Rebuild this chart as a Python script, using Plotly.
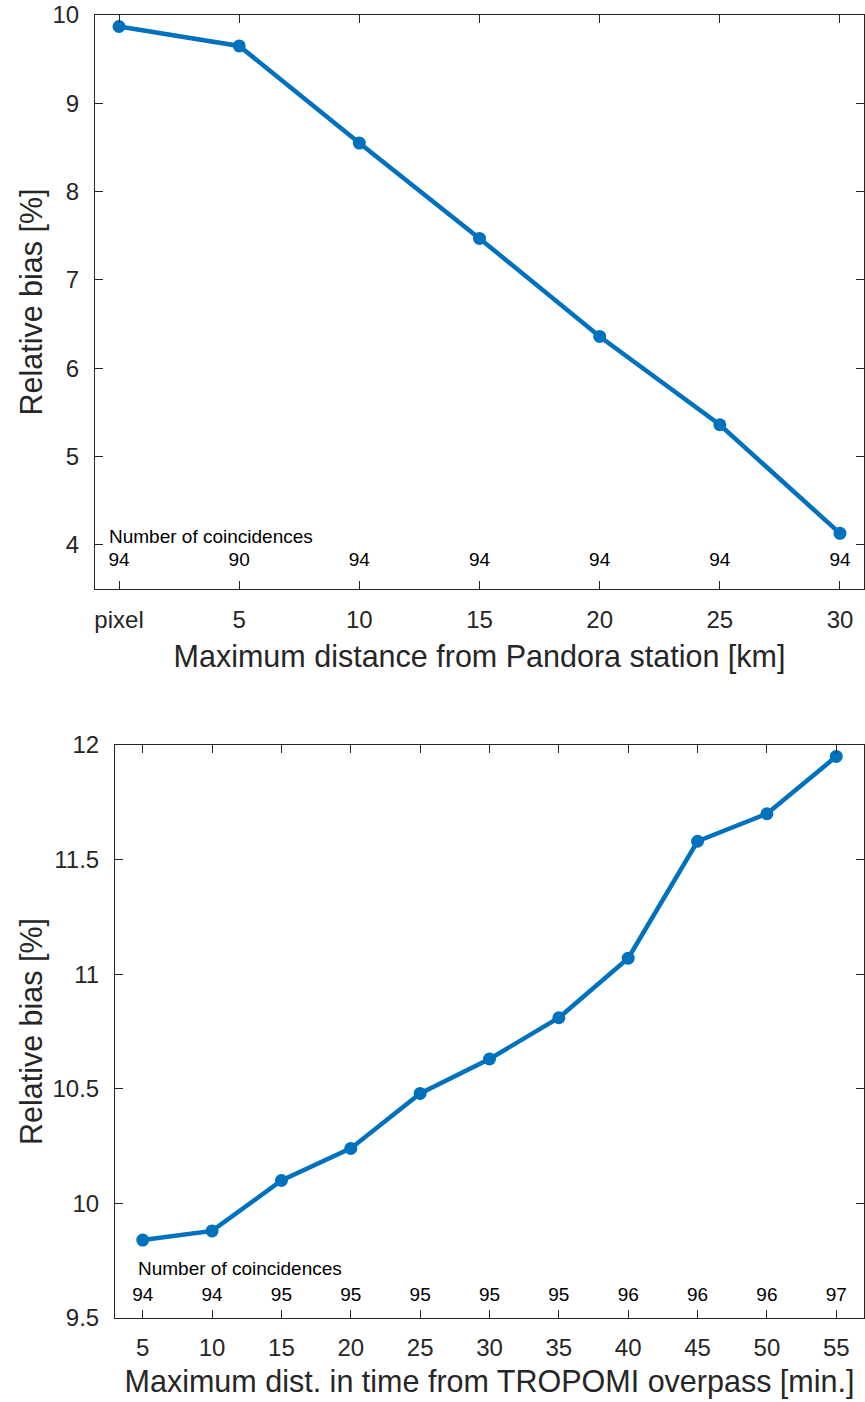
import plotly.graph_objects as go

# top panel: distance from Pandora station
dist_x = [0, 5, 10, 15, 20, 25, 30]
dist_labels = ["pixel", "5", "10", "15", "20", "25", "30"]
dist_bias = [9.87, 9.65, 8.55, 7.47, 6.36, 5.36, 4.13]
dist_count = [94, 90, 94, 94, 94, 94, 94]

# bottom panel: time from TROPOMI overpass
time_x = [5, 10, 15, 20, 25, 30, 35, 40, 45, 50, 55]
time_bias = [9.84, 9.88, 10.10, 10.24, 10.48, 10.63, 10.81, 11.07, 11.58, 11.70, 11.95]
time_count = [94, 94, 95, 95, 95, 95, 95, 96, 96, 96, 97]

W, H = 865, 1402
blue = "#0072BD"
ink = "#262626"
font = "Liberation Sans, Arial, sans-serif"

fig = go.Figure()

fig.add_trace(go.Scatter(
    x=dist_x, y=dist_bias, mode="lines+markers",
    line=dict(color=blue, width=4.5),
    marker=dict(color=blue, size=13),
    xaxis="x", yaxis="y", showlegend=False
))
fig.add_trace(go.Scatter(
    x=time_x, y=time_bias, mode="lines+markers",
    line=dict(color=blue, width=4.5),
    marker=dict(color=blue, size=13),
    xaxis="x2", yaxis="y2", showlegend=False
))

# coincidence counts
fig.add_trace(go.Scatter(
    x=dist_x, y=[3.81] * len(dist_x), mode="text",
    text=[str(c) for c in dist_count],
    textfont=dict(size=19, color="black", family=font),
    xaxis="x", yaxis="y", showlegend=False, hoverinfo="skip"
))
fig.add_trace(go.Scatter(
    x=time_x, y=[9.595] * len(time_x), mode="text",
    text=[str(c) for c in time_count],
    textfont=dict(size=19, color="black", family=font),
    xaxis="x2", yaxis="y2", showlegend=False, hoverinfo="skip"
))

fig.add_annotation(x=-0.5, y=4.1, xref="x", yref="y", text="Number of coincidences",
                   showarrow=False, xanchor="left", font=dict(size=19, color="black", family=font))
fig.add_annotation(x=4.5, y=9.715, xref="x2", yref="y2", text="Number of coincidences",
                   showarrow=False, xanchor="left", font=dict(size=19, color="black", family=font))

pw = W - 1
axis_common = dict(
    showline=True, linecolor=ink, linewidth=1, mirror="ticks",
    ticks="inside", ticklen=8, tickcolor=ink,
    showgrid=False, zeroline=False, automargin=False,
    tickfont=dict(size=24, color=ink, family=font),
    title_font=dict(size=30.5, color=ink, family=font),
)

fig.update_layout(
    width=W, height=H,
    margin=dict(l=0, r=1, t=0, b=0),
    plot_bgcolor="white", paper_bgcolor="white",
    xaxis=dict(
        axis_common, domain=[95 / pw, 1], anchor="y", range=[-1, 31],
        tickvals=dist_x, ticktext=dist_labels, ticklabelstandoff=9,
        title=dict(text="Maximum distance from Pandora station [km]", standoff=13),
    ),
    yaxis=dict(
        axis_common, domain=[1 - 589 / H, 1 - 15 / H], anchor="x", range=[3.5, 10],
        tickvals=[4, 5, 6, 7, 8, 9, 10], ticklabelstandoff=10,
        title=dict(text="Relative bias [%]", standoff=0),
    ),
    xaxis2=dict(
        axis_common, domain=[115 / pw, 1], anchor="y2", range=[3, 57],
        tickvals=time_x, ticklabelstandoff=8,
        title=dict(text="Maximum dist. in time from TROPOMI overpass [min.]", standoff=10),
    ),
    yaxis2=dict(
        axis_common, domain=[1 - 1318 / H, 1 - 745 / H], anchor="x2", range=[9.5, 12],
        tickvals=[9.5, 10, 10.5, 11, 11.5, 12], ticktext=["9.5", "10", "10.5", "11", "11.5", "12"],
        ticklabelstandoff=10,
        title=dict(text="Relative bias [%]", standoff=0),
    ),
)

fig.write_html("out.html", config={"displayModeBar": False},
               post_script="document.body.style.margin='0';")
